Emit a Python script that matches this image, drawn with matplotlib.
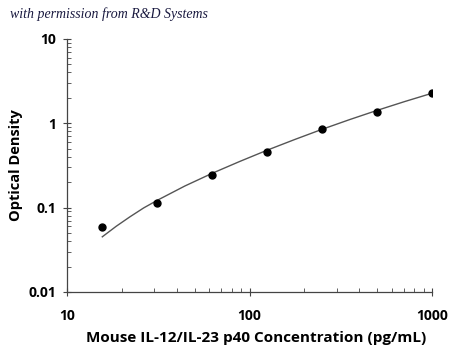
import numpy as np
import matplotlib.pyplot as plt
from matplotlib.ticker import FixedLocator, FixedFormatter, LogLocator, NullFormatter

# standard points (pg/mL) and measured optical density
conc = [15.6, 31.25, 62.5, 125, 250, 500, 1000]
od = [0.059, 0.114, 0.244, 0.458, 0.86, 1.37, 2.29]

# fitted curve
curve_x = [15.6, 18.6, 22.1, 26.3, 31.25, 44.2, 62.5, 88.4, 125, 177, 250, 354, 500, 707, 1000]
curve_y = [0.045, 0.060, 0.0776, 0.099, 0.122, 0.180, 0.255, 0.352, 0.479, 0.641, 0.847,
           1.104, 1.419, 1.803, 2.265]

xticks = [10, 100, 1000]
xtick_labels = ['10', '100', '1000']
yticks = [0.01, 0.1, 1, 10]
ytick_labels = ['0.01', '0.1', '1', '10']

plt.rcParams['font.family'] = ['Open Sans', 'DejaVu Sans']

fig = plt.figure(figsize=(4.5, 3.5), dpi=100)
ax = fig.add_axes([0.149, 0.166, 0.811, 0.723])

ax.plot(curve_x, curve_y, color='#555555', linewidth=1.0, zorder=2)
ax.plot(conc, od, 'o', color='black', markersize=5, zorder=3)

ax.set_xscale('log')
ax.set_yscale('log')
ax.set_xlim(10, 1000)
ax.set_ylim(0.01, 10)

ax.xaxis.set_major_locator(FixedLocator(xticks))
ax.xaxis.set_major_formatter(FixedFormatter(xtick_labels))
ax.yaxis.set_major_locator(FixedLocator(yticks))
ax.yaxis.set_major_formatter(FixedFormatter(ytick_labels))
ax.xaxis.set_minor_locator(LogLocator(base=10, subs=np.arange(2, 10)))
ax.yaxis.set_minor_locator(LogLocator(base=10, subs=np.arange(2, 10)))
ax.xaxis.set_minor_formatter(NullFormatter())
ax.yaxis.set_minor_formatter(NullFormatter())

for s in ['top', 'right']:
    ax.spines[s].set_visible(False)
for s in ['left', 'bottom']:
    ax.spines[s].set_color('#444444')
    ax.spines[s].set_linewidth(0.9)

ax.tick_params(which='major', direction='inout', length=6, width=0.8, color='#444444',
               labelsize=10)
ax.tick_params(axis='x', which='major', pad=9)
ax.tick_params(axis='y', which='major', pad=5)
ax.tick_params(which='minor', direction='in', length=3, width=0.6, color='#444444')
for lab in ax.get_xticklabels() + ax.get_yticklabels():
    lab.set_fontweight('bold')

ax.set_xlabel('Mouse IL-12/IL-23 p40 Concentration (pg/mL)', fontsize=11,
              fontweight='bold')
ax.xaxis.set_label_coords(0.518, -0.155)
ax.set_ylabel('Optical Density', fontsize=10.5, fontweight='bold', labelpad=4)

fig.text(0.022, 0.948, 'with permission from R&D Systems', fontsize=10,
         family='Liberation Serif', style='italic', color='#1a1a40')

fig.savefig('out.png', dpi=100)
